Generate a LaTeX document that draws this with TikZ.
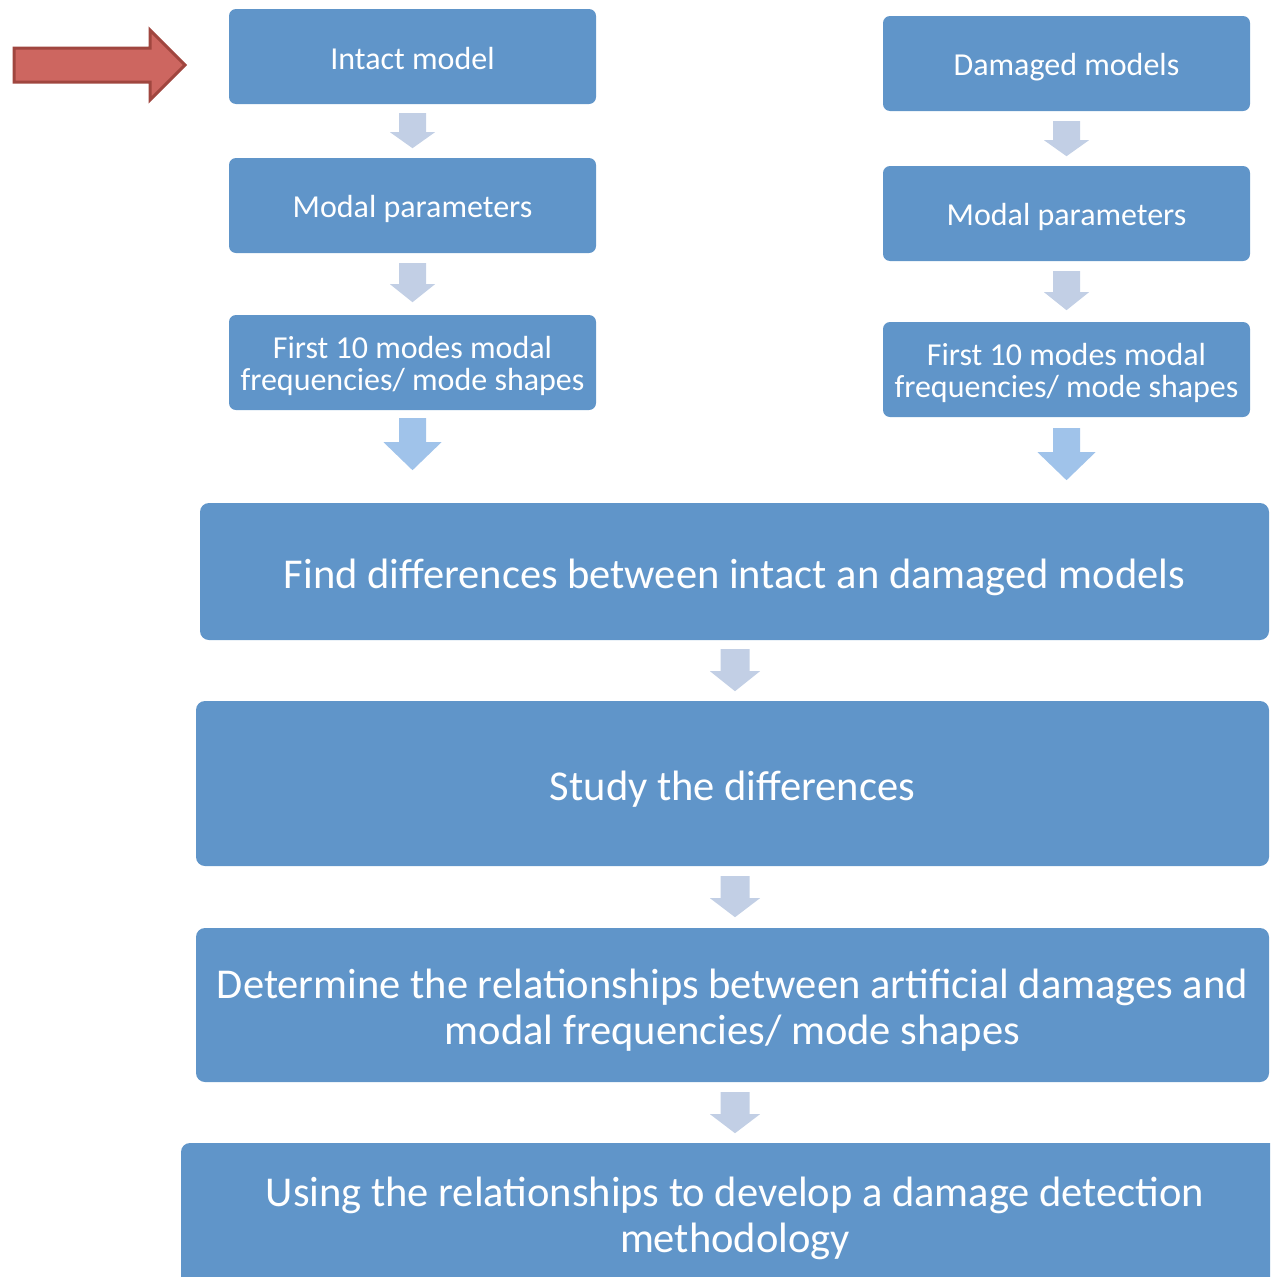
\documentclass[tikz,border=0pt]{standalone}
\usepackage{fontspec}
\setmainfont{Carlito}
\usetikzlibrary{calc}

\definecolor{boxblue}{HTML}{6095C9}
\definecolor{stepgrey}{HTML}{C2CFE5}
\definecolor{steplight}{HTML}{A0C3EA}
\definecolor{pointerfill}{HTML}{CD6660}
\definecolor{pointerline}{HTML}{A0463F}

\tikzset{
  flowbox/.style={fill=boxblue, draw=none, rounded corners=7pt, inner sep=0pt},
  smallbox/.style={flowbox, minimum width=367pt, minimum height=95pt},
  widebox/.style={flowbox, rounded corners=9pt},
  smalltext/.style={text=white, align=center, inner sep=0pt, yshift=-3pt,
    font=\fontsize{32}{32}\selectfont},
  widetext/.style={text=white, align=center, inner sep=0pt, yshift=-5pt,
    font=\fontsize{42.5}{45.5}\selectfont},
}

% downward block arrow: #1 fill, #2 top point, #3 half shaft, #4 half head,
% #5 shaft length, #6 total length
\newcommand\downblock[6]{%
  \fill[#1] ($(#2)+(-#3,0)$) -- ++(0,#5) -- ($(#2)+(-#4,#5)$) -- ($(#2)+(0,#6)$)
    -- ($(#2)+(#4,#5)$) -- ($(#2)+(#3,#5)$) -- ($(#2)+(#3,0)$) -- cycle;}

\begin{document}
\begin{tikzpicture}[x=1pt,y=-1pt]
\useasboundingbox (0,0) rectangle (1270,1277);
\clip (0,0) rectangle (1270,1277);

% left column
\node[smallbox, label={[smalltext, yshift=1pt]center:Intact model}] (intact) at (412.5,56.5) {};
\node[smallbox, label={[smalltext]center:Modal parameters}] (modalA) at (412.5,205.5) {};
\node[smallbox, label={[smalltext]center:{First 10 modes modal\\frequencies/ mode shapes}}] (firstA) at (412.5,362.5) {};

% right column
\node[smallbox, label={[smalltext, yshift=-1pt]center:Damaged models}] (damaged) at (1066.5,63.5) {};
\node[smallbox, label={[smalltext]center:Modal parameters}] (modalB) at (1066.5,213.5) {};
\node[smallbox, label={[smalltext]center:{First 10 modes modal\\frequencies/ mode shapes}}] (firstB) at (1066.5,369.5) {};

% main sequence
\node[widebox, minimum width=1069pt, minimum height=137pt,
  label={[widetext, yshift=-1pt]center:Find differences between intact an damaged models}]
  (find) at (734.5,571.5) {};
\node[widebox, minimum width=1073pt, minimum height=165pt,
  label={[widetext, yshift=-1pt]center:Study the differences}]
  (study) at (732.5,783.5) {};
\node[widebox, minimum width=1073pt, minimum height=154pt,
  label={[widetext]center:{Determine the relationships between artificial damages and\\modal frequencies/ mode shapes}}]
  (relate) at (732.5,1005) {};
\node[widebox, minimum width=1108pt, minimum height=144pt,
  label={[widetext, yshift=1.5pt]center:{Using the relationships to develop a damage detection\\methodology}}]
  (method) at (735,1215) {};

% step arrows in the columns
\coordinate (a1) at ($(intact.south)+(0,9)$);
\coordinate (a2) at ($(modalA.south)+(0,10)$);
\coordinate (a3) at ($(firstA.south)+(0,8)$);
\coordinate (b1) at ($(damaged.south)+(0,10)$);
\coordinate (b2) at ($(modalB.south)+(0,10)$);
\coordinate (b3) at ($(firstB.south)+(0,11)$);
\downblock{stepgrey}{a1}{13.5}{22.5}{19}{35}
\downblock{stepgrey}{a2}{13.5}{22.5}{21}{39}
\downblock{steplight}{a3}{13.5}{29}{24}{52}
\downblock{stepgrey}{b1}{13.5}{22.5}{19}{35}
\downblock{stepgrey}{b2}{13.5}{22.5}{21}{39}
\downblock{steplight}{b3}{13.5}{29}{24}{52}

% step arrows between the wide boxes
\coordinate (c1) at ($(find.south)+(0.5,9)$);
\coordinate (c2) at ($(study.south)+(2.5,10)$);
\coordinate (c3) at ($(relate.south)+(2.5,10)$);
\downblock{stepgrey}{c1}{14.5}{25}{22}{42}
\downblock{stepgrey}{c2}{14.5}{25}{22}{41}
\downblock{stepgrey}{c3}{14.5}{25}{22}{41}

% pointer to the intact model
\coordinate (tip) at (185,65);
\filldraw[fill=pointerfill, draw=pointerline, line width=3pt, line join=miter]
  ($(tip)+(-171,-17)$) -- ($(tip)+(-35,-17)$) -- ($(tip)+(-35,-35)$) -- (tip)
  -- ($(tip)+(-35,35)$) -- ($(tip)+(-35,17)$) -- ($(tip)+(-171,17)$) -- cycle;
\end{tikzpicture}
\end{document}
